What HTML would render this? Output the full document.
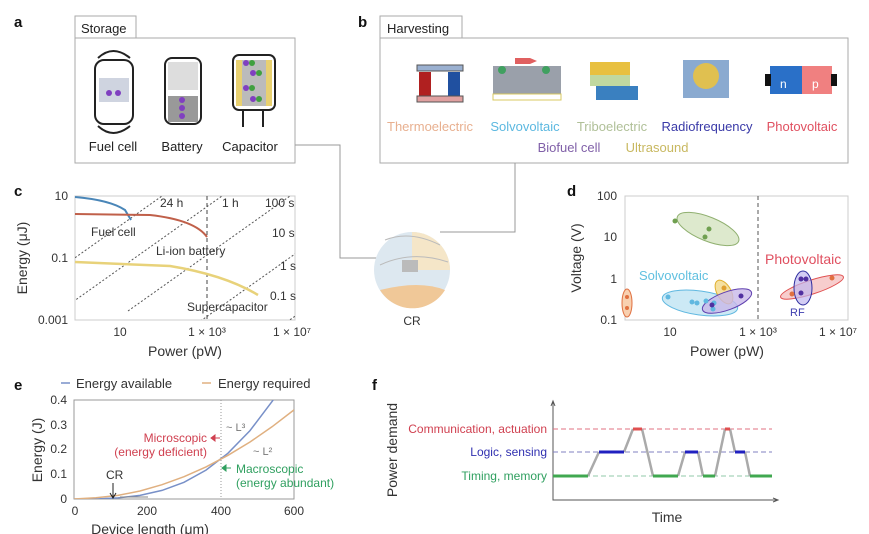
<!DOCTYPE html>
<html><head><meta charset="utf-8"><style>
body{margin:0;background:#fff}
svg{display:block;font-family:"Liberation Sans",sans-serif}
</style></head><body>
<svg width="869" height="534" viewBox="0 0 869 534" xmlns="http://www.w3.org/2000/svg">
<defs>
<clipPath id="cc"><rect x="75" y="196" width="220" height="124"/></clipPath>
<clipPath id="ce"><rect x="74" y="400" width="220" height="99"/></clipPath>
</defs>
<g font-weight="bold" font-size="15" fill="#111">
<text x="14" y="27">a</text><text x="358" y="27">b</text><text x="14" y="196">c</text>
<text x="567" y="196">d</text><text x="14" y="390">e</text><text x="372" y="390">f</text></g>

<!-- a -->
<rect x="75" y="38" width="220" height="125" fill="none" stroke="#aaa"/>
<rect x="75" y="16" width="61" height="22" fill="#fff" stroke="#aaa"/>
<text x="81" y="33" font-size="13" fill="#222">Storage</text>
<g stroke="#222" stroke-width="2" fill="none">
<rect x="95" y="60" width="38" height="64" rx="9"/>
<path d="M98 58 Q113 44 130 58 M98 126 Q113 140 130 126"/>
<rect x="165" y="58" width="36" height="66" rx="7"/>
<rect x="233" y="55" width="42" height="55" rx="6"/>
<path d="M243 110 V127 M263 110 V127"/>
</g>
<rect x="99" y="78" width="30" height="24" fill="#cfd4e0"/>
<circle cx="109" cy="93" r="3" fill="#8040c0"/><circle cx="118" cy="93" r="3" fill="#8040c0"/>
<rect x="168" y="62" width="30" height="28" fill="#ddd"/><rect x="168" y="96" width="30" height="26" fill="#999"/>
<circle cx="182" cy="100" r="3" fill="#8040c0"/><circle cx="182" cy="108" r="3" fill="#8040c0"/><circle cx="182" cy="116" r="3" fill="#8040c0"/>
<rect x="236" y="60" width="36" height="46" fill="#e8d070"/><rect x="242" y="60" width="24" height="46" fill="#bbb"/>
<circle cx="246" cy="63" r="3" fill="#8040c0"/><circle cx="253" cy="73" r="3" fill="#8040c0"/><circle cx="246" cy="88" r="3" fill="#8040c0"/><circle cx="253" cy="99" r="3" fill="#8040c0"/>
<circle cx="252" cy="63" r="3" fill="#40a040"/><circle cx="259" cy="73" r="3" fill="#40a040"/><circle cx="252" cy="88" r="3" fill="#40a040"/><circle cx="259" cy="99" r="3" fill="#40a040"/>
<g font-size="13" fill="#222" text-anchor="middle"><text x="113" y="151">Fuel cell</text><text x="182" y="151">Battery</text><text x="250" y="151">Capacitor</text></g>
<path d="M295 145 H340 V258 H380" fill="none" stroke="#999"/>

<!-- b -->
<rect x="380" y="38" width="468" height="125" fill="none" stroke="#aaa"/>
<rect x="380" y="16" width="82" height="22" fill="#fff" stroke="#aaa"/>
<text x="387" y="33" font-size="13" fill="#222">Harvesting</text>
<rect x="417" y="65" width="46" height="6" fill="#9ab0d0" stroke="#555"/>
<rect x="419" y="72" width="12" height="24" fill="#b02020"/><rect x="448" y="72" width="12" height="24" fill="#2050a0"/>
<rect x="417" y="96" width="46" height="6" fill="#e0a0a0" stroke="#555"/>
<rect x="493" y="66" width="68" height="28" fill="#9aa0aa"/><rect x="493" y="94" width="68" height="6" fill="#fff" stroke="#d8c860"/>
<path d="M515 58 H530 L537 61 L530 64 H515Z" fill="#e06060"/>
<circle cx="502" cy="70" r="4" fill="#40a060"/><circle cx="546" cy="70" r="4" fill="#40a060"/>
<path d="M590 62 H630 V75 H590Z" fill="#e8c040"/><path d="M590 75 H630 V86 H590Z" fill="#c0d8a0"/><path d="M596 86 H638 V100 H596Z" fill="#3a80c0"/>
<rect x="683" y="60" width="46" height="38" fill="#8aaad0"/><circle cx="706" cy="76" r="13" fill="#e0c050"/>
<rect x="770" y="66" width="32" height="28" fill="#2a70c8"/><rect x="802" y="66" width="30" height="28" fill="#f08080"/>
<rect x="765" y="74" width="6" height="12" fill="#111"/><rect x="831" y="74" width="6" height="12" fill="#111"/>
<text x="780" y="88" fill="#fff" font-size="12">n</text><text x="812" y="88" fill="#fff" font-size="12">p</text>
<g font-size="13" text-anchor="middle">
<text x="430" y="131" fill="#e8b090">Thermoelectric</text><text x="525" y="131" fill="#5cb8e0">Solvovoltaic</text>
<text x="612" y="131" fill="#b0c098">Triboelectric</text><text x="707" y="131" fill="#3a3aa8">Radiofrequency</text>
<text x="802" y="131" fill="#e05060">Photovoltaic</text>
<text x="569" y="152" fill="#8060a8">Biofuel cell</text><text x="657" y="152" fill="#c8b860">Ultrasound</text></g>
<path d="M515 163 V232 H440" fill="none" stroke="#999"/>

<!-- globe -->
<circle cx="412" cy="270" r="38" fill="#dde8f0"/>
<path d="M380 290 A38 38 0 0 0 445 290 Q420 280 380 290Z" fill="#f0c898"/>
<path d="M412 232 A38 38 0 0 1 450 270 L412 270Z" fill="#f5e6c8"/>
<path d="M385 240 Q410 230 440 245 M380 265 Q412 250 448 262" fill="none" stroke="#bbb"/>
<rect x="402" y="260" width="16" height="12" fill="#bbb"/>
<text x="412" y="325" font-size="12" fill="#333" text-anchor="middle">CR</text>

<!-- c -->
<rect x="75" y="196" width="220" height="124" fill="none" stroke="#ccc"/>
<g clip-path="url(#cc)" stroke="#555" stroke-dasharray="2,2" fill="none">
<line x1="0" y1="311" x2="162" y2="196"/><line x1="60" y1="311" x2="222" y2="196"/>
<line x1="128" y1="311" x2="290" y2="196"/><line x1="171" y1="342" x2="333" y2="227"/>
<line x1="215" y1="373" x2="377" y2="258"/><line x1="258" y1="404" x2="420" y2="289"/>
</g>
<line x1="207" y1="196" x2="207" y2="320" stroke="#444" stroke-dasharray="4,3"/>
<path d="M75 197 Q110 200 125 210 L131 220" fill="none" stroke="#4a86b8" stroke-width="2"/>
<path d="M75 214 L150 215 Q195 220 207 237" fill="none" stroke="#c0604a" stroke-width="2"/>
<path d="M75 262 L170 266 Q225 275 258 295" fill="none" stroke="#e8d27a" stroke-width="2.5"/>
<g font-size="12" fill="#333">
<text x="160" y="207">24 h</text><text x="222" y="207">1 h</text><text x="265" y="207">100 s</text>
<text x="272" y="237">10 s</text><text x="280" y="270">1 s</text><text x="270" y="300">0.1 s</text>
<text x="91" y="236">Fuel cell</text><text x="156" y="255">Li-ion battery</text><text x="187" y="311">Supercapacitor</text></g>
<g font-size="12" fill="#333" text-anchor="end"><text x="68" y="200">10</text><text x="68" y="262">0.1</text><text x="68" y="324">0.001</text></g>
<g font-size="12" fill="#333" text-anchor="middle"><text x="120" y="336">10</text><text x="207" y="336">1 × 10³</text><text x="292" y="336">1 × 10⁷</text></g>
<text x="185" y="356" font-size="14" fill="#333" text-anchor="middle">Power (pW)</text>
<text transform="translate(27,258) rotate(-90)" font-size="14" fill="#333" text-anchor="middle">Energy (μJ)</text>

<!-- d -->
<rect x="625" y="196" width="223" height="124" fill="none" stroke="#ccc"/>
<line x1="758" y1="196" x2="758" y2="320" stroke="#555" stroke-dasharray="4,3"/>
<ellipse cx="708" cy="229" rx="33" ry="12" transform="rotate(22 708 229)" fill="#cfe0b8" fill-opacity=".7" stroke="#90b070"/>
<ellipse cx="627" cy="303" rx="5" ry="14" fill="#f8d0b0" stroke="#e07040"/>
<ellipse cx="700" cy="303" rx="38" ry="12" transform="rotate(8 700 303)" fill="#bfe3f3" fill-opacity=".8" stroke="#60b8e0"/>
<ellipse cx="724" cy="292" rx="7" ry="13" transform="rotate(-30 724 292)" fill="#f5e0a0" stroke="#e0b030"/>
<ellipse cx="727" cy="301" rx="26" ry="9" transform="rotate(-20 727 301)" fill="#c8b8e8" fill-opacity=".8" stroke="#6040b0"/>
<ellipse cx="812" cy="287" rx="33" ry="7" transform="rotate(-18 812 287)" fill="#f5c0c0" fill-opacity=".8" stroke="#e05050"/>
<ellipse cx="803" cy="288" rx="9" ry="17" fill="#c0b8f0" fill-opacity=".7" stroke="#3030a0"/>
<g fill="#70a050"><circle cx="675" cy="221" r="2.5"/><circle cx="705" cy="237" r="2.5"/><circle cx="709" cy="229" r="2.5"/></g>
<g fill="#e07040"><circle cx="627" cy="297" r="2"/><circle cx="627" cy="308" r="2"/><circle cx="792" cy="294" r="2.5"/><circle cx="832" cy="278" r="2.5"/></g>
<g fill="#60b8e0"><circle cx="668" cy="297" r="2.5"/><circle cx="692" cy="302" r="2.5"/><circle cx="697" cy="303" r="2.5"/><circle cx="706" cy="301" r="2.5"/><circle cx="714" cy="303" r="2.5"/><circle cx="713" cy="309" r="2.5"/></g>
<g fill="#5030a0"><circle cx="712" cy="305" r="2.5"/><circle cx="741" cy="296" r="2.5"/><circle cx="801" cy="279" r="2.5"/><circle cx="806" cy="279" r="2.5"/><circle cx="801" cy="293" r="2.5"/></g>
<circle cx="724" cy="288" r="2.5" fill="#e0a030"/>
<text x="765" y="264" font-size="14" fill="#e05060">Photovoltaic</text>
<text x="639" y="280" font-size="13" fill="#60c0e0">Solvovoltaic</text>
<text x="790" y="316" font-size="11" fill="#4040b0">RF</text>
<g font-size="12" fill="#333" text-anchor="end"><text x="617" y="200">100</text><text x="617" y="241">10</text><text x="617" y="283">1</text><text x="617" y="324">0.1</text></g>
<g font-size="12" fill="#333" text-anchor="middle"><text x="670" y="336">10</text><text x="758" y="336">1 × 10³</text><text x="838" y="336">1 × 10⁷</text></g>
<text x="727" y="356" font-size="14" fill="#333" text-anchor="middle">Power (pW)</text>
<text transform="translate(581,258) rotate(-90)" font-size="14" fill="#333" text-anchor="middle">Voltage (V)</text>

<!-- e -->
<line x1="61" y1="383" x2="70" y2="383" stroke="#7890c8" stroke-width="1.5"/>
<text x="76" y="388" font-size="13" fill="#333">Energy available</text>
<line x1="202" y1="383" x2="211" y2="383" stroke="#e0b080" stroke-width="1.5"/>
<text x="218" y="388" font-size="13" fill="#333">Energy required</text>
<rect x="74" y="400" width="220" height="99" fill="none" stroke="#999"/>
<line x1="221" y1="400" x2="221" y2="499" stroke="#999" stroke-dasharray="1,2"/>
<g clip-path="url(#ce)" fill="none" stroke-width="1.5">
<path d="M74 499 L96 499 L118 497.9 L140 495.4 L162 490.4 L184 482.3 L206 470.1 L228 453.2 L250 430.6 L272 401.6 L276 396" stroke="#7890c8"/>
<path d="M74 499 L96 497.8 L118 495.4 L140 491 L162 484.7 L184 476.7 L206 466.9 L228 455.3 L250 442 L272 426.8 L294 409.9" stroke="#e0b080"/>
</g>
<line x1="120" y1="497" x2="148" y2="497" stroke="#888"/>
<g font-size="12" fill="#333" text-anchor="end"><text x="67" y="404">0.4</text><text x="67" y="429">0.3</text><text x="67" y="453">0.2</text><text x="67" y="478">0.1</text><text x="67" y="503">0</text></g>
<g font-size="12" fill="#333" text-anchor="middle"><text x="75" y="515">0</text><text x="147" y="515">200</text><text x="221" y="515">400</text><text x="294" y="515">600</text></g>
<text x="150" y="534" font-size="14" fill="#333" text-anchor="middle">Device length (μm)</text>
<text transform="translate(42,450) rotate(-90)" font-size="14" fill="#333" text-anchor="middle">Energy (J)</text>
<g font-size="12" text-anchor="end" fill="#d04050"><text x="207" y="442">Microscopic</text><text x="207" y="456">(energy deficient)</text></g>
<path d="M211 438 L220 438 M211 438 l4 -3 v6z" stroke="#d04050" fill="#d04050"/>
<g font-size="12" fill="#30a060"><text x="236" y="473">Macroscopic</text><text x="236" y="487">(energy abundant)</text></g>
<path d="M222 468 L231 468 M222 468 l4 -3 v6z" stroke="#30a060" fill="#30a060"/>
<text x="226" y="431" font-size="11" fill="#777">~ L³</text><text x="253" y="455" font-size="11" fill="#777">~ L²</text>
<text x="106" y="479" font-size="12" fill="#333">CR</text>
<path d="M113 483 V497 M110 493 L113 498 L116 493" stroke="#222" fill="none"/>

<!-- f -->
<path d="M553 402 V500 H778" fill="none" stroke="#555"/>
<path d="M551 406 L553 401 L555 406 M773 498 L778 500 L773 502" fill="none" stroke="#555"/>
<line x1="553" y1="429" x2="772" y2="429" stroke="#e07080" stroke-dasharray="5,3"/>
<line x1="553" y1="452" x2="772" y2="452" stroke="#8080c0" stroke-dasharray="5,3"/>
<line x1="553" y1="476" x2="772" y2="476" stroke="#90c8a8" stroke-dasharray="5,3"/>
<g font-size="12" text-anchor="end"><text x="547" y="433" fill="#d04050">Communication, actuation</text><text x="547" y="456" fill="#3030b0">Logic, sensing</text><text x="547" y="480" fill="#30a060">Timing, memory</text></g>
<path d="M588 476 L599 452 M624 452 L633 429 M642 429 L653 476 M678 476 L685 452 M698 452 L703 476 M715 476 L725 429 M730 429 L735 452 M745 452 L750 476" stroke="#aaa" stroke-width="2.5" fill="none"/>
<path d="M553 476 H588 M653 476 H678 M703 476 H715 M750 476 H772" stroke="#40a850" stroke-width="3"/>
<path d="M599 452 H624 M685 452 H698 M735 452 H745" stroke="#2020c0" stroke-width="3"/>
<path d="M633 429 H642 M725 429 H730" stroke="#e05050" stroke-width="3"/>
<text x="667" y="522" font-size="14" fill="#333" text-anchor="middle">Time</text>
<text transform="translate(397,450) rotate(-90)" font-size="14" fill="#333" text-anchor="middle">Power demand</text>
</svg>
</body></html>
